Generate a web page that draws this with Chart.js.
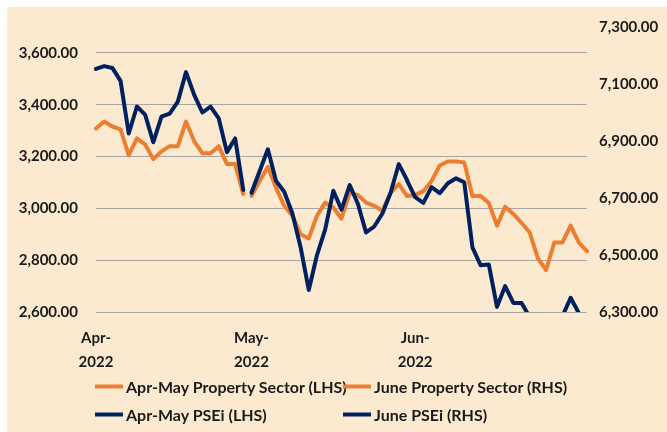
<!DOCTYPE html>
<html>
<head>
<meta charset="utf-8">
<script src="https://cdn.jsdelivr.net/npm/chart.js@4.4.1/dist/chart.umd.min.js"></script>
<style>
  html, body { margin: 0; padding: 0; background: #fff; }
  #wrap { position: absolute; left: 7px; top: 7px; width: 660px; height: 425px; background: #FCEAD0; }
  #c { position: absolute; left: 0; top: 0; }
  #legend { position: absolute; left: 0; top: 0; width: 667px; height: 432px; font: bold 16px Lato, "Open Sans", sans-serif; color: #1a1a1a; }
  .item { position: absolute; display: flex; align-items: center; white-space: nowrap; transform: translateY(-50%); }
  .swatch { width: 28px; height: 4px; margin-right: 3px; }
</style>
</head>
<body>
<div id="wrap"></div>
<canvas id="c" width="667" height="432"></canvas>
<div id="legend"></div>
<script>
// trading days, Apr 1 to Jun 30 2022 (61 points)
const days = Array.from({ length: 61 }, (_, i) => i);
const tickIndex = [0, 19, 39];
const tickLabels = [["Apr-", "2022"], ["May-", "2022"], ["Jun-", "2022"]];
const gapAfter = 18; // break in the Apr-May lines between April and May

// Apr-May values, left axis (index 0..38)
const propAprMay = [3308, 3335, 3316, 3305, 3205, 3270, 3247, 3190, 3220, 3240,
  3240, 3335, 3259, 3213, 3213, 3240, 3171, 3171, 3056, 3048,
  3106, 3160, 3079, 3010, 2972, 2900, 2884, 2972, 3022, 3003,
  2960, 3060, 3052, 3022, 3010, 2991, 3060, 3094, 3048];
const pseiAprMay = [3538, 3549, 3542, 3492, 3289, 3393, 3362, 3255, 3354, 3366,
  3412, 3526, 3438, 3370, 3393, 3347, 3217, 3270, 3071, 3060,
  3144, 3228, 3106, 3064, 2980, 2850, 2685, 2819, 2918, 3068,
  2995, 3090, 3018, 2907, 2930, 2980, 3060, 3171, 3110];

// June values, right axis (index 38..60)
const propJune = [6707, 6710, 6724, 6759, 6814, 6828, 6828, 6825, 6707, 6707,
  6683, 6603, 6669, 6644, 6613, 6579, 6488, 6447, 6544, 6544,
  6603, 6544, 6513];
const pseiJune = [6762, 6703, 6683, 6738, 6717, 6752, 6769, 6755, 6527, 6464,
  6467, 6318, 6391, 6332, 6332, 6282, 6250, 6240, 6255, 6285,
  6350, 6296, 6250];

const ORANGE = "#ED7D31";
const NAVY = "#002060";

function pad(arr, start) {
  const out = new Array(days.length).fill(null);
  arr.forEach((v, i) => { out[start + i] = v; });
  return out;
}

const gapSeg = { borderColor: c => c.p0DataIndex === gapAfter ? "rgba(0,0,0,0)" : undefined };

const font = { family: 'Lato, "Open Sans", sans-serif', size: 15, weight: "bold" };

const chart = new Chart(document.getElementById("c"), {
  type: "line",
  data: {
    labels: days,
    datasets: [
      { label: "Apr-May Property Sector (LHS)", data: pad(propAprMay, 0), borderColor: ORANGE, yAxisID: "y", order: 2, segment: gapSeg },
      { label: "June Property Sector (RHS)", data: pad(propJune, 38), borderColor: ORANGE, yAxisID: "y1", order: 2 },
      { label: "Apr-May PSEi (LHS)", data: pad(pseiAprMay, 0), borderColor: NAVY, yAxisID: "y", order: 1, segment: gapSeg },
      { label: "June PSEi (RHS)", data: pad(pseiJune, 38), borderColor: NAVY, yAxisID: "y1", order: 1 }
    ]
  },
  options: {
    responsive: false,
    animation: false,
    spanGaps: false,
    elements: {
      line: { borderWidth: 4, tension: 0, borderJoinStyle: "round", borderCapStyle: "round" },
      point: { radius: 0 }
    },
    layout: { padding: { left: 10, right: 2, top: 24, bottom: 0 } },
    plugins: { legend: { display: false }, tooltip: { enabled: false } },
    scales: {
      x: {
        grid: { display: false },
        border: { display: false },
        afterFit: s => { s.height = 120; },
        ticks: {
          autoSkip: false, maxRotation: 0, padding: 6, color: "#1a1a1a",
          font: { ...font, lineHeight: 1.6 },
          callback: (v, i) => {
            const k = tickIndex.indexOf(i);
            return k >= 0 ? tickLabels[k] : "";
          }
        }
      },
      y: {
        position: "left", min: 2600, max: 3700,
        grid: { color: "#A6A6A6", lineWidth: 1, drawTicks: false },
        border: { display: false },
        afterFit: s => { s.width = 86; },
        afterBuildTicks: s => { s.ticks = s.ticks.filter(t => t.value <= 3600); },
        ticks: {
          stepSize: 200, padding: 18, color: "#1a1a1a", font,
          callback: v => v.toLocaleString("en-US", { minimumFractionDigits: 2, maximumFractionDigits: 2 })
        }
      },
      y1: {
        position: "right", min: 6300, max: 7300,
        grid: { display: false, drawTicks: false },
        border: { display: false },
        afterFit: s => { s.width = 78; },
        ticks: {
          stepSize: 200, padding: 12, color: "#1a1a1a", font,
          callback: v => v.toLocaleString("en-US", { minimumFractionDigits: 2, maximumFractionDigits: 2 })
        }
      }
    }
  }
});

// legend laid out in two columns like the original
const legend = document.getElementById("legend");
const slots = [[95, 386], [343, 386], [95, 414], [343, 414]];
chart.data.datasets.forEach((ds, i) => {
  const el = document.createElement("div");
  el.className = "item";
  el.style.left = slots[i][0] + "px";
  el.style.top = slots[i][1] + "px";
  el.innerHTML = `<span class="swatch" style="background:${ds.borderColor}"></span>${ds.label}`;
  legend.appendChild(el);
});
</script>
</body>
</html>
